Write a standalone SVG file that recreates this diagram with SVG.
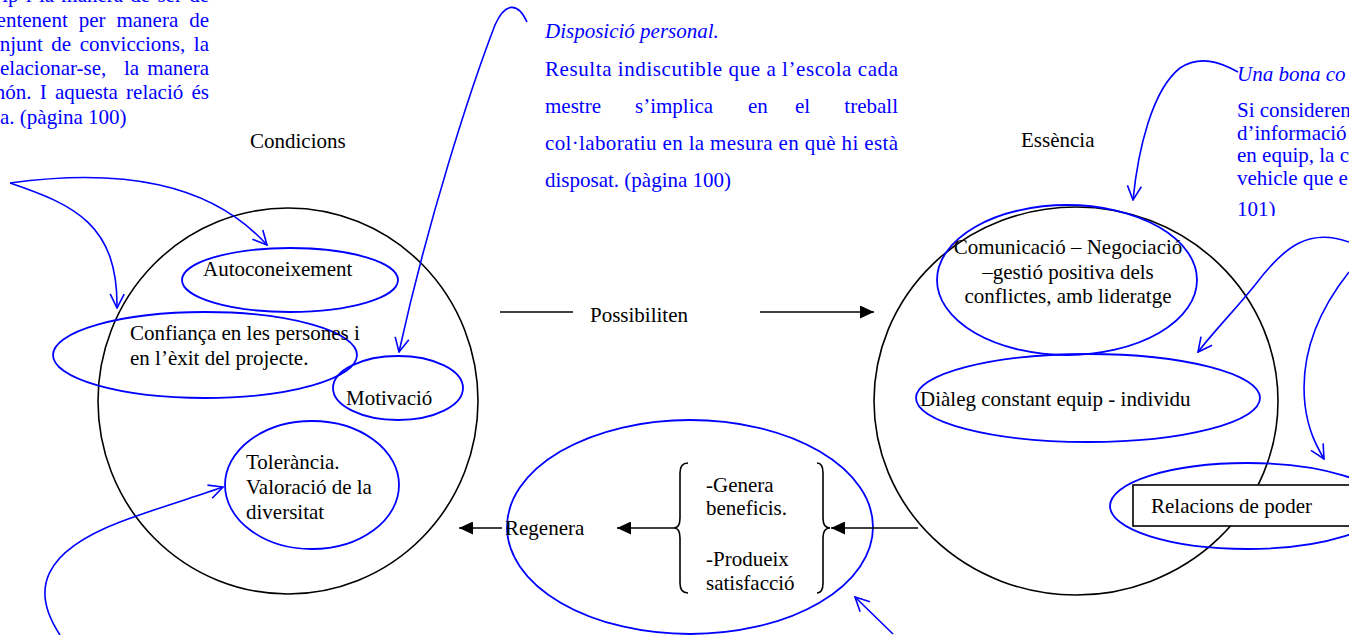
<svg xmlns="http://www.w3.org/2000/svg" width="1349" height="635" viewBox="0 0 1349 635">
<style>
text{font-family:"Liberation Serif","Times New Roman",serif;font-size:21px;fill:#000}
.blue{fill:#0000ff}
.it{font-style:italic}
.big{fill:none;stroke:#000;stroke-width:1.6}
.bl{fill:none;stroke:#0000ff;stroke-width:1.8}
.conn{fill:none;stroke:#0000ff;stroke-width:1.6;marker-end:url(#openBlue)}
.blk{fill:none;stroke:#000;stroke-width:1.6}
.arr{marker-end:url(#fillBlack)}
</style>
<defs>
<marker id="openBlue" viewBox="0 0 16 16" refX="15" refY="8" markerWidth="16" markerHeight="16" markerUnits="userSpaceOnUse" orient="auto">
<path d="M1,1 L15,8 L1,15" fill="none" stroke="#0000ff" stroke-width="1.6"/>
</marker>
<marker id="fillBlack" viewBox="0 0 14 13" refX="14" refY="6.5" markerWidth="14" markerHeight="13" markerUnits="userSpaceOnUse" orient="auto">
<path d="M0,0 L14,6.5 L0,13 z" fill="#000"/>
</marker>
<clipPath id="clipTR"><rect x="1200" y="0" width="149" height="216"/></clipPath>
</defs>
<rect width="1349" height="635" fill="#fff"/>

<g id="note-left">
<text class="blue" x="209" y="2" text-anchor="end" word-spacing="2">ip i la manera de ser de</text>
<text class="blue" x="209" y="26.5" text-anchor="end" word-spacing="5.7">entenent per manera de</text>
<text class="blue" x="209" y="50.8" text-anchor="end" word-spacing="3.3">njunt de conviccions, la</text>
<text class="blue" y="75.1"><tspan x="0">elacionar-se,</tspan><tspan x="124">la</tspan><tspan x="209" text-anchor="end">manera</tspan></text>
<text class="blue" x="209" y="99.4" text-anchor="end" word-spacing="3">nón. I aquesta relació és</text>
<text class="blue" x="0" y="123.7">a. (pàgina 100)</text>
</g>

<g id="note-middle">
<text class="blue it" x="545" y="38">Disposició personal.</text>
<text class="blue" x="545" y="76" textLength="353" lengthAdjust="spacing">Resulta indiscutible que a l’escola cada</text>
<text class="blue" y="113"><tspan x="545">mestre</tspan><tspan x="635">s’implica</tspan><tspan x="748">en</tspan><tspan x="795">el</tspan><tspan x="898" text-anchor="end">treball</tspan></text>
<text class="blue" x="545" y="150" textLength="353" lengthAdjust="spacing">col·laboratiu en la mesura en què hi està</text>
<text class="blue" x="545" y="187">disposat. (pàgina 100)</text>
</g>

<g id="note-right" clip-path="url(#clipTR)">
<text class="blue it" x="1237" y="81">Una bona co</text>
<text class="blue" x="1237" y="117">Si consideren</text>
<text class="blue" x="1237" y="140">d’informació</text>
<text class="blue" x="1237" y="162">en equip, la c</text>
<text class="blue" x="1237" y="185">vehicle que e</text>
<text class="blue" x="1237" y="216">101)</text>
</g>

<g id="label-condicions"><text x="250" y="148">Condicions</text></g>
<g id="label-essencia"><text x="1021" y="147">Essència</text></g>

<g id="condicions">
<ellipse class="big" cx="288" cy="401" rx="190" ry="193"/>
</g>
<g id="autoconeixement">
<ellipse class="bl" cx="290" cy="280" rx="108" ry="32"/>
<text x="203" y="276">Autoconeixement</text>
</g>
<g id="confianca">
<ellipse class="bl" cx="205" cy="355" rx="152" ry="43"/>
<text x="130" y="340">Confiança en les persones i</text>
<text x="130" y="365">en l’èxit del projecte.</text>
</g>
<g id="motivacio">
<ellipse class="bl" cx="398" cy="388" rx="65" ry="32"/>
<text x="346" y="405">Motivació</text>
</g>
<g id="tolerancia">
<ellipse class="bl" cx="312" cy="485" rx="87" ry="64"/>
<text x="246" y="469">Tolerància.</text>
<text x="246" y="494">Valoració de la</text>
<text x="246" y="519">diversitat</text>
</g>

<g id="essencia">
<ellipse class="big" cx="1076" cy="401" rx="202" ry="194"/>
</g>
<g id="comunicacio">
<ellipse class="bl" cx="1067" cy="280" rx="130" ry="75"/>
<text x="1068" y="254" text-anchor="middle">Comunicació – Negociació</text>
<text x="1068" y="279" text-anchor="middle">–gestió positiva dels</text>
<text x="1068" y="303" text-anchor="middle">conflictes, amb lideratge</text>
</g>
<g id="dialeg">
<ellipse class="bl" cx="1088" cy="398" rx="172" ry="44"/>
<text x="920" y="406">Diàleg constant equip - individu</text>
</g>
<g id="relacions">
<ellipse class="bl" cx="1247" cy="506" rx="137" ry="43"/>
<rect x="1133" y="485" width="230" height="41" fill="#fff" stroke="#000" stroke-width="1.6"/>
<text x="1151" y="513">Relacions de poder</text>
</g>

<g id="resultats">
<ellipse class="bl" cx="690" cy="527" rx="183" ry="107"/>
<path class="blk" d="M688,463 Q680,463 680,473 L680,518 Q680,528 674,528 Q680,528 680,538 L680,583 Q680,593 688,593"/>
<path class="blk" d="M817,463 Q823,463 823,473 L823,518 Q823,528 830,528 Q823,528 823,538 L823,583 Q823,593 817,593"/>
<text x="706" y="492">-Genera</text>
<text x="706" y="515">beneficis.</text>
<text x="706" y="566">-Produeix</text>
<text x="706" y="590">satisfacció</text>
</g>

<g id="label-possibiliten"><text x="590" y="322">Possibiliten</text></g>
<g id="label-regenera"><text x="505" y="535">Regenera</text></g>

<g id="connectors">
<line class="blk" x1="500" y1="312" x2="573" y2="312"/>
<line class="blk arr" x1="760" y1="312" x2="874" y2="312"/>
<line class="blk arr" x1="918" y1="528" x2="831" y2="528"/>
<line class="blk arr" x1="674" y1="528" x2="617" y2="528"/>
<line class="blk arr" x1="502" y1="528" x2="459" y2="528"/>

<path class="conn" d="M10,183 C120,168 210,182 267,245"/>
<path class="conn" d="M10,183 C75,205 118,225 117,308"/>
<path class="conn" d="M527,22 C518,2 505,2 495,25 C470,90 428,220 399,352"/>
<path class="conn" d="M60,635 C30,590 42,552 120,522 C160,507 195,497 223,487"/>
<path class="conn" d="M893,634 L855,597"/>
<path class="conn" d="M1238,72 C1220,62 1200,55 1180,68 C1152,90 1138,150 1133,200"/>
<path class="conn" d="M1349,242 C1310,228 1285,245 1255,285 C1235,310 1215,330 1198,352"/>
<path class="conn" d="M1349,272 C1315,315 1300,360 1305,405 C1308,430 1316,445 1324,459"/>
</g>
</svg>
